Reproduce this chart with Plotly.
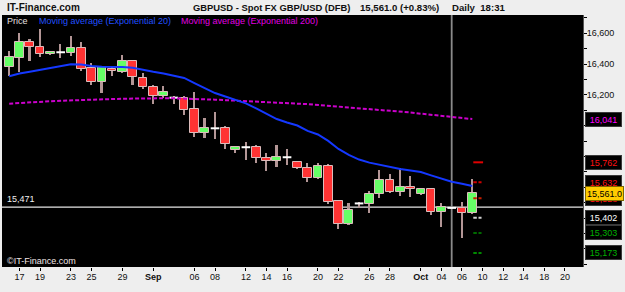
import plotly.graph_objects as go

# ---------------- data ----------------
session_dates = ["08-16", "08-17", "08-18", "08-19", "08-21", "08-22", "08-23", "08-24", "08-25", "08-26",
                 "08-28", "08-29", "08-30", "08-31", "09-01", "09-02", "09-04", "09-05", "09-06", "09-07",
                 "09-08", "09-09", "09-11", "09-12", "09-13", "09-14", "09-15", "09-16", "09-18", "09-19",
                 "09-20", "09-21", "09-22", "09-23", "09-25", "09-26", "09-27", "09-28", "09-29", "09-30",
                 "10-02", "10-03", "10-04", "10-05", "10-06", "10-07",
                 "10-10", "10-11", "10-12", "10-13", "10-14", "10-17", "10-18", "10-19", "10-20", "10-21"]

opens = [16383, 16438, 16542, 16509, 16466, 16477, 16470, 16503, 16373, 16286,
         16366, 16351, 16418, 16312, 16249, 16191, 16182, 16178, 16108, 15951,
         15983, 15983, 15844, 15860, 15860, 15790, 15773, 15795, 15762, 15723,
         15658, 15738, 15511, 15362, 15495, 15490, 15555, 15647, 15571, 15600,
         15557, 15587, 15438, 15466, 15468, 15433]
highs = [16487, 16600, 16561, 16626, 16487, 16531, 16582, 16542, 16405, 16388,
         16379, 16459, 16422, 16340, 16264, 16258, 16195, 16193, 16216, 16048,
         16091, 15998, 15868, 15892, 15875, 15821, 15875, 15849, 15764, 15760,
         15756, 15751, 15518, 15496, 15503, 15576, 15712, 15686, 15723, 15673,
         15595, 15592, 15500, 15469, 15506, 15652]
lows = [16323, 16351, 16422, 16448, 16459, 16438, 16453, 16357, 16264, 16210,
        16323, 16340, 16264, 16236, 16141, 16178, 16141, 16069, 15925, 15918,
        15912, 15849, 15825, 15777, 15760, 15708, 15734, 15745, 15717, 15636,
        15652, 15492, 15327, 15355, 15464, 15435, 15529, 15565, 15544, 15535,
        15550, 15420, 15344, 15462, 15273, 15428]
closes = [16444, 16542, 16509, 16466, 16479, 16477, 16503, 16368, 16286, 16379,
          16355, 16418, 16314, 16249, 16191, 16219, 16182, 16105, 15951, 15987,
          15983, 15881, 15860, 15860, 15788, 15773, 15797, 15795, 15723, 15658,
          15738, 15506, 15362, 15453, 15495, 15555, 15647, 15571, 15604, 15587,
          15587, 15438, 15470, 15466, 15433, 15561]

ema20 = [16321, 16339, 16351, 16362, 16373, 16384, 16399, 16397, 16387, 16383,
         16383, 16382, 16377, 16362, 16350, 16339, 16326, 16310, 16277, 16245,
         16212, 16190, 16167, 16145, 16112, 16076, 16043, 16021, 16001, 15966,
         15943, 15901, 15849, 15810, 15780, 15760, 15745, 15732, 15719, 15709,
         15699, 15677, 15654, 15636, 15623, 15608]
ema200 = [16143, 16148, 16152, 16156, 16159, 16162, 16165, 16167, 16170, 16172,
          16173, 16175, 16177, 16178, 16178, 16178, 16178, 16177, 16174, 16172,
          16169, 16166, 16162, 16158, 16154, 16151, 16149, 16146, 16143, 16140,
          16136, 16131, 16124, 16118, 16113, 16108, 16103, 16097, 16092, 16086,
          16078, 16071, 16064, 16057, 16050, 16043]

tick_dates = ["08-17", "08-19", "08-23", "08-25", "08-29", "09-01", "09-06", "09-08", "09-12", "09-14",
              "09-16", "09-20", "09-22", "09-26", "09-28", "10-02", "10-04", "10-06", "10-10", "10-12",
              "10-14", "10-18", "10-20"]
tick_labels = ["17", "19", "23", "25", "29", "<b>Sep</b>", "06", "08", "12", "14",
               "16", "20", "22", "26", "28", "<b>Oct</b>", "04", "06", "10", "12",
               "14", "18", "20"]

# price axis: ticks every 200; labels that the value boxes cover in the reference are left blank
y_ticks = [15200, 15400, 15600, 15800, 16000, 16200, 16400, 16600]
y_tick_labels = ["", "", "", "", "", "16,200", "16,400", "16,600"]

ref_level = 15471
ref_text = "15,471"
cursor_date = "10-05"
pivot_levels = [15762, 15632, 15528, 15402, 15303, 15173]
pivot_texts = ["15,762", "15,632", "15,528", "15,402", "15,303", "15,173"]
ema200_label_value = 16041
ema200_label_text = "16,041"
last_price = 15561
last_price_text = "15,561.0"

# ---------------- styles ----------------
FONT = "Liberation Sans, Arial, sans-serif"
RED = "#ff3333"
GREEN = "#66ff66"
BORDER = "#dcbcbc"
WICK = "#b39696"
pivot_colors = ["#e00000", "#d00000", "#c81e00", "#d0d0d0", "#006a00", "#008a00"]
pivot_dash = ["solid", "3.5px,1.7px", "3.5px,1.7px", "3.5px,1.7px", "3.5px,1.7px", "3.5px,1.7px"]
pivot_label_colors = ["#ff1010", "#ff1010", "#ff1010", "#ffffff", "#00b000", "#00b000"]

pos = {d: i for i, d in enumerate(session_dates)}
xs = list(range(len(opens)))

fig = go.Figure()

# wicks
fig.add_trace(go.Bar(x=xs, base=lows, y=[h - l for h, l in zip(highs, lows)], width=0.16,
                     marker=dict(color=WICK, line=dict(width=0)), hoverinfo="skip"))

# bodies
gx, gb, gy, rx, rb, ry, dx, dy = [], [], [], [], [], [], [], []
for i, (o, c) in enumerate(zip(opens, closes)):
    if c > o:
        gx.append(i); gb.append(o); gy.append(c - o)
    elif c < o:
        rx.append(i); rb.append(c); ry.append(o - c)
    else:
        dx += [i - 0.42, i + 0.42, None]
        dy += [o, o, None]

fig.add_trace(go.Bar(x=gx, base=gb, y=gy, width=0.84,
                     marker=dict(color=GREEN, line=dict(color=BORDER, width=1)), hoverinfo="skip"))
fig.add_trace(go.Bar(x=rx, base=rb, y=ry, width=0.84,
                     marker=dict(color=RED, line=dict(color=BORDER, width=1)), hoverinfo="skip"))
fig.add_trace(go.Scatter(x=dx, y=dy, mode="lines", line=dict(color="#ffffff", width=2),
                         hoverinfo="skip"))

# moving averages
fig.add_trace(go.Scatter(x=xs, y=ema200, mode="lines",
                         line=dict(color="#cc00cc", width=2, dash="4px,2px"), hoverinfo="skip"))
fig.add_trace(go.Scatter(x=xs, y=ema20, mode="lines",
                         line=dict(color="#1438ff", width=2), hoverinfo="skip"))

# pivot dashes right of last candle
last = xs[-1]
for lvl, col, dsh in zip(pivot_levels, pivot_colors, pivot_dash):
    fig.add_trace(go.Scatter(x=[last + 0.1, last + (1.05 if dsh == "solid" else 0.9)], y=[lvl, lvl],
                             mode="lines", line=dict(color=col, width=2, dash=dsh), hoverinfo="skip"))

# helpers for layout placement (pixel -> paper)
L, R, T, B = 2, 583, 15, 267
def px(xp):
    return (xp - L) / (R - L)
def py(yp):
    return (B - yp) / (B - T)

shapes = [
    dict(type="line", xref="paper", x0=0, x1=1, yref="y", y0=ref_level, y1=ref_level,
         line=dict(color="#e6e6e6", width=1.2), layer="below"),
    dict(type="line", xref="x", x0=pos[cursor_date], x1=pos[cursor_date], yref="paper", y0=0, y1=1,
         line=dict(color="#8a8a8a", width=1.8), layer="below"),
]

ann = []
# title
ann.append(dict(text="<b>IT-Finance.com</b>", x=px(5), y=py(7.5), xref="paper", yref="paper",
                xanchor="left", yanchor="middle", showarrow=False,
                font=dict(family=FONT, size=10, color="#111")))
ann.append(dict(text="<b>GBPUSD - Spot FX GBP/USD (DFB)</b>", x=px(191), y=py(7.5), xref="paper", yref="paper",
                xanchor="left", yanchor="middle", showarrow=False,
                font=dict(family=FONT, size=9.4, color="#111")))
ann.append(dict(text="<b>15,561.0 (+0.83%)</b>", x=px(357.5), y=py(7.5), xref="paper", yref="paper",
                xanchor="left", yanchor="middle", showarrow=False,
                font=dict(family=FONT, size=9.6, color="#111")))
ann.append(dict(text="<b>Daily  18:31</b>", x=px(450), y=py(7.5), xref="paper", yref="paper",
                xanchor="left", yanchor="middle", showarrow=False,
                font=dict(family=FONT, size=9.6, color="#111")))
# in-plot legend
for txt, xp, col in [("Price", 5, "#e8e0e0"),
                     ("Moving average (Exponential 20)", 37, "#2050ff"),
                     ("Moving average (Exponential 200)", 179, "#e000e0")]:
    ann.append(dict(text=txt, x=px(xp), y=py(21), xref="paper", yref="paper",
                    xanchor="left", yanchor="middle", showarrow=False,
                    font=dict(family=FONT, size=9, color=col)))
# reference line label
ann.append(dict(text=ref_text, x=px(4.5), y=ref_level, xref="paper", yref="y", yshift=1,
                xanchor="left", yanchor="bottom", showarrow=False,
                font=dict(family=FONT, size=9, color="#f0f0f0")))
# copyright
ann.append(dict(text="©IT-Finance.com", x=px(4.5), y=py(261), xref="paper", yref="paper",
                xanchor="left", yanchor="middle", showarrow=False,
                font=dict(family=FONT, size=9, color="#f0e6e6")))

# right-hand value labels
def box(text, level, fg, bg, w=33, border="#3a3a3a"):
    return dict(text=text, x=px(584.5), y=level, xref="paper", yref="y",
                xanchor="left", yanchor="middle", showarrow=False, align="center",
                width=w, height=11, bgcolor=bg, bordercolor=border, borderwidth=1, borderpad=1,
                font=dict(family=FONT, size=9, color=fg))

ann.append(box(ema200_label_text, ema200_label_value, "#ff00ff", "#000000"))
for lvl, txt, col in zip(pivot_levels, pivot_texts, pivot_label_colors):
    ann.append(box(txt, lvl, col, "#000000"))
ann.append(box(last_price_text, last_price, "#000000", "#ffcc00", w=35, border="#806600"))

fig.update_layout(
    width=625, height=292,
    margin=dict(l=L, r=625 - R, t=T, b=292 - B),
    paper_bgcolor="#eeeeee", plot_bgcolor="#000000",
    showlegend=False, barmode="overlay", bargap=0,
    shapes=shapes, annotations=ann,
    xaxis=dict(range=[-0.70, 55.76], tickmode="array",
               tickvals=[pos[d] for d in tick_dates], ticktext=tick_labels,
               ticks="outside", ticklen=3, tickcolor="#000", tickwidth=1, ticklabelstandoff=-2,
               showgrid=False, zeroline=False, showline=False, fixedrange=True,
               tickfont=dict(family=FONT, size=9, color="#111")),
    yaxis=dict(range=[15082, 16719], side="right", tickmode="array",
               tickvals=y_ticks, ticktext=y_tick_labels,
               ticks="outside", ticklen=3, tickcolor="#000", tickwidth=1, ticklabelstandoff=-2,
               minor=dict(dtick=100, tick0=0, ticks="outside", ticklen=3, tickcolor="#000"),
               showgrid=False, zeroline=False, showline=True, linecolor="#555", linewidth=1,
               tickfont=dict(family=FONT, size=9, color="#111")),
)

fig.write_html("out.html")
